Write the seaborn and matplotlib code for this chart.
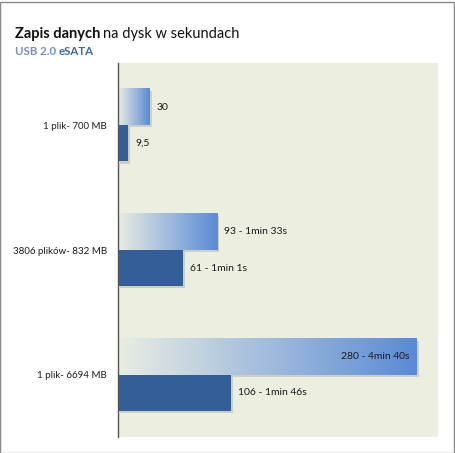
import numpy as np
import pandas as pd
import matplotlib
matplotlib.use('Agg')
import matplotlib.pyplot as plt
import matplotlib.patheffects as pe
from matplotlib.colors import LinearSegmentedColormap
from matplotlib.patches import Rectangle
import seaborn as sns

# Data
categories = ['1 plik- 700 MB', '3806 plików- 832 MB', '1 plik- 6694 MB']
series = ['USB 2.0', 'eSATA']
usb_values = [30, 93, 280]
esata_values = [9.5, 61, 106]
usb_labels = ['30', '93 - 1min 33s', '280 - 4min 40s']
esata_labels = ['9,5', '61 - 1min 1s', '106 - 1min 46s']

bg_color = '#eceee0'
usb_color = '#5a8ad6'
usb_light = '#e9ede2'
esata_color = '#345e97'

df = pd.DataFrame({
    'plik': categories * 2,
    'czas': usb_values + esata_values,
    'interfejs': [series[0]] * 3 + [series[1]] * 3,
})

sns.set_style('white')
plt.rcParams['font.family'] = ['Lato', 'DejaVu Sans']

fig = plt.figure(figsize=(4.56, 4.53), dpi=100)
ax = fig.add_axes([118 / 456, 1 - 437 / 453, 320 / 456, 374 / 453])
ax.set_facecolor(bg_color)

sns.barplot(data=df, y='plik', x='czas', hue='interfejs', orient='h',
            palette=[usb_color, esata_color], width=0.58, dodge=True,
            legend=False, saturation=1, ax=ax)

shadow = [pe.SimplePatchShadow(offset=(1.5, -1.5), alpha=0.15), pe.Normal()]
grad_cmap = LinearSegmentedColormap.from_list('usb', [usb_light, usb_color])
gradient = np.linspace(0, 1, 256).reshape(1, -1)

usb_bars = ax.containers[0]
esata_bars = ax.containers[1]
for p in list(usb_bars) + list(esata_bars):
    p.set_edgecolor('none')
    p.set_path_effects(shadow)

# horizontal gradient fill for the USB bars
for p in usb_bars:
    x0, y0, w, h = p.get_x(), p.get_y(), p.get_width(), p.get_height()
    ax.imshow(gradient, cmap=grad_cmap, aspect='auto', interpolation='bicubic',
              extent=[x0, x0 + w, y0 + h, y0], zorder=p.get_zorder() + 0.5)

# value labels
for p, lab in zip(usb_bars, usb_labels):
    yc = p.get_y() + p.get_height() / 2
    end = p.get_width()
    if end > 250:
        ax.annotate(lab, (end, yc), xytext=(-5, 0), textcoords='offset points',
                    ha='right', va='center', fontsize=7.5, color='#1a1a1a', zorder=5)
    else:
        ax.annotate(lab, (end, yc), xytext=(5, 0), textcoords='offset points',
                    ha='left', va='center', fontsize=7.5, color='#1a1a1a', zorder=5)
for p, lab in zip(esata_bars, esata_labels):
    yc = p.get_y() + p.get_height() / 2
    ax.annotate(lab, (p.get_width(), yc), xytext=(5, 0), textcoords='offset points',
                ha='left', va='center', fontsize=7.5, color='#1a1a1a', zorder=5)

ax.set_xlim(0, 300)
ax.set_ylim(2.5, -0.5)
ax.set_xticks([])
ax.set_xlabel('')
ax.set_ylabel('')
ax.tick_params(axis='y', length=0, pad=8, labelsize=7, colors='#1a1a1a')
for s in ['top', 'right', 'bottom']:
    ax.spines[s].set_visible(False)
ax.spines['left'].set_color('#555555')
ax.spines['left'].set_linewidth(1)

# title and subtitle, pieces placed next to each other
fig.canvas.draw()
renderer = fig.canvas.get_renderer()
t1 = fig.text(15 / 456, 1 - 38 / 453, 'Zapis danych', fontsize=10.5, fontweight='bold',
              color='#111111', va='baseline')
ext = t1.get_window_extent(renderer)
fig.text((ext.x1 + 3) / 456, 1 - 38 / 453, 'na dysk w sekundach', fontsize=10.5,
         color='#111111', va='baseline')
s1 = fig.text(15 / 456, 1 - 55 / 453, 'USB 2.0', fontsize=8.3, fontweight='bold',
              color='#6f90c0', va='baseline')
ext = s1.get_window_extent(renderer)
fig.text((ext.x1 + 3) / 456, 1 - 55 / 453, 'eSATA', fontsize=8.3, fontweight='bold',
         color='#3d68a2', va='baseline')

# outer frame of the chart
fig.patches.append(Rectangle((0.5 / 456, 0.5 / 453), 454 / 456, 451 / 453,
                             transform=fig.transFigure, fill=False,
                             edgecolor='#888888', linewidth=1))

fig.savefig('out.png', dpi=100)
